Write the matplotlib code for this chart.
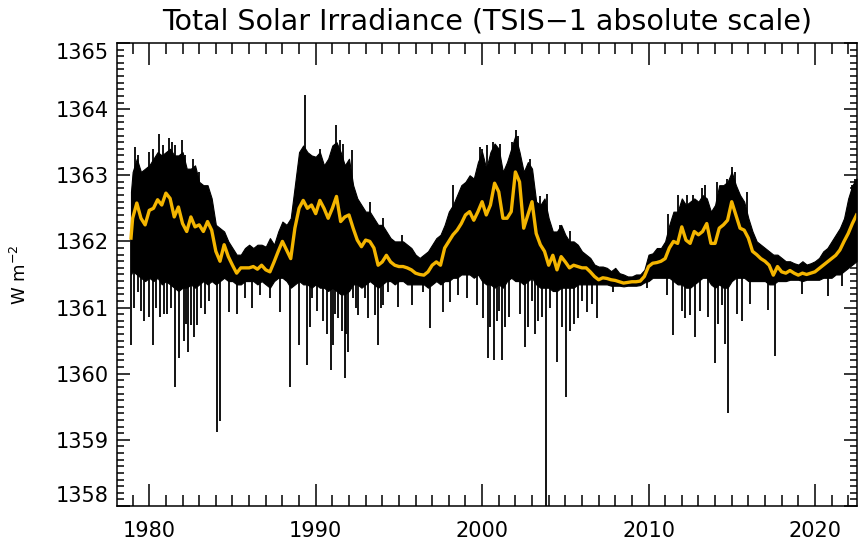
import numpy as np
import matplotlib.pyplot as plt
from matplotlib.ticker import MultipleLocator

# sample times: start of record, then every quarter year
years = np.concatenate([[1978.9], np.arange(1979.0, 2022.51, 0.25)])

# 81-day smoothed TSI (orange curve), W m-2
tsi_smooth = [
    1362.05,
    1362.35, 1362.58, 1362.35, 1362.25,  # 1979
    1362.47, 1362.50, 1362.63, 1362.55,  # 1980
    1362.73, 1362.65, 1362.37, 1362.52,  # 1981
    1362.27, 1362.15, 1362.37, 1362.22,  # 1982
    1362.25, 1362.15, 1362.30, 1362.17,  # 1983
    1361.85, 1361.70, 1361.95, 1361.77,  # 1984
    1361.64, 1361.52, 1361.60, 1361.60,  # 1985
    1361.60, 1361.62, 1361.58, 1361.64,  # 1986
    1361.57, 1361.54, 1361.69, 1361.85,  # 1987
    1362.00, 1361.87, 1361.74, 1362.20,  # 1988
    1362.50, 1362.62, 1362.50, 1362.55,  # 1989
    1362.42, 1362.62, 1362.50, 1362.35,  # 1990
    1362.50, 1362.68, 1362.30, 1362.37,  # 1991
    1362.40, 1362.20, 1362.02, 1361.92,  # 1992
    1362.02, 1362.00, 1361.90, 1361.64,  # 1993
    1361.69, 1361.79, 1361.69, 1361.64,  # 1994
    1361.62, 1361.62, 1361.60, 1361.57,  # 1995
    1361.52, 1361.50, 1361.49, 1361.54,  # 1996
    1361.64, 1361.69, 1361.64, 1361.90,  # 1997
    1362.00, 1362.10, 1362.17, 1362.27,  # 1998
    1362.40, 1362.45, 1362.32, 1362.45,  # 1999
    1362.60, 1362.40, 1362.55, 1362.88,  # 2000
    1362.75, 1362.35, 1362.35, 1362.45,  # 2001
    1363.05, 1362.90, 1362.20, 1362.40,  # 2002
    1362.60, 1362.12, 1361.95, 1361.85,  # 2003
    1361.64, 1361.79, 1361.57, 1361.77,  # 2004
    1361.69, 1361.60, 1361.64, 1361.62,  # 2005
    1361.60, 1361.60, 1361.54, 1361.47,  # 2006
    1361.42, 1361.45, 1361.44, 1361.42,  # 2007
    1361.41, 1361.39, 1361.37, 1361.38,  # 2008
    1361.39, 1361.39, 1361.40, 1361.47,  # 2009
    1361.62, 1361.67, 1361.68, 1361.70,  # 2010
    1361.74, 1361.90, 1362.00, 1361.97,  # 2011
    1362.22, 1362.02, 1361.97, 1362.15,  # 2012
    1362.10, 1362.15, 1362.27, 1361.97,  # 2013
    1361.97, 1362.20, 1362.25, 1362.32,  # 2014
    1362.60, 1362.40, 1362.20, 1362.17,  # 2015
    1362.05, 1361.85, 1361.80, 1361.74,  # 2016
    1361.70, 1361.64, 1361.49, 1361.62,  # 2017
    1361.54, 1361.52, 1361.56, 1361.52,  # 2018
    1361.49, 1361.52, 1361.50, 1361.52,  # 2019
    1361.54, 1361.59, 1361.64, 1361.69,  # 2020
    1361.74, 1361.79, 1361.87, 1362.00,  # 2021
    1362.12, 1362.27, 1362.40,           # 2022
]

# upper edge of the dense daily values
tsi_high = [
    1362.75,
    1363.05, 1363.25, 1363.05, 1363.10,  # 1979
    1363.15, 1363.25, 1363.35, 1363.30,  # 1980
    1363.35, 1363.40, 1363.30, 1363.30,  # 1981
    1363.35, 1363.10, 1363.10, 1363.15,  # 1982
    1362.90, 1362.85, 1362.85, 1362.65,  # 1983
    1362.25, 1362.20, 1362.15, 1362.00,  # 1984
    1361.90, 1361.80, 1361.80, 1361.90,  # 1985
    1361.95, 1361.90, 1361.95, 1361.95,  # 1986
    1361.92, 1362.05, 1361.95, 1362.15,  # 1987
    1362.30, 1362.25, 1362.35, 1362.85,  # 1988
    1363.35, 1363.45, 1363.35, 1363.30,  # 1989
    1363.28, 1363.35, 1363.15, 1363.25,  # 1990
    1363.45, 1363.50, 1363.35, 1363.15,  # 1991
    1363.25, 1362.85, 1362.65, 1362.55,  # 1992
    1362.45, 1362.45, 1362.35, 1362.25,  # 1993
    1362.25, 1362.15, 1362.05, 1362.00,  # 1994
    1362.00, 1362.00, 1361.95, 1361.90,  # 1995
    1361.80, 1361.75, 1361.80, 1361.85,  # 1996
    1361.95, 1362.05, 1362.10, 1362.25,  # 1997
    1362.45, 1362.55, 1362.70, 1362.85,  # 1998
    1362.90, 1363.00, 1362.95, 1363.20,  # 1999
    1363.35, 1363.10, 1363.35, 1363.48,  # 2000
    1363.40, 1363.05, 1363.20, 1363.40,  # 2001
    1363.60, 1363.35, 1363.05, 1363.20,  # 2002
    1363.10, 1362.60, 1362.55, 1362.65,  # 2003
    1362.35, 1362.15, 1362.15, 1362.25,  # 2004
    1362.10, 1362.00, 1362.00, 1361.95,  # 2005
    1361.85, 1361.80, 1361.75, 1361.65,  # 2006
    1361.62, 1361.62, 1361.60, 1361.55,  # 2007
    1361.60, 1361.52, 1361.50, 1361.47,  # 2008
    1361.47, 1361.50, 1361.50, 1361.57,  # 2009
    1361.80, 1361.82, 1361.90, 1361.90,  # 2010
    1362.00, 1362.25, 1362.45, 1362.45,  # 2011
    1362.65, 1362.55, 1362.60, 1362.65,  # 2012
    1362.60, 1362.70, 1362.65, 1362.45,  # 2013
    1362.55, 1362.85, 1362.85, 1362.90,  # 2014
    1363.05, 1362.85, 1362.70, 1362.60,  # 2015
    1362.35, 1362.15, 1362.00, 1361.95,  # 2016
    1361.90, 1361.85, 1361.80, 1361.80,  # 2017
    1361.75, 1361.70, 1361.70, 1361.67,  # 2018
    1361.65, 1361.70, 1361.65, 1361.67,  # 2019
    1361.70, 1361.75, 1361.85, 1361.90,  # 2020
    1362.00, 1362.10, 1362.20, 1362.35,  # 2021
    1362.65, 1362.85, 1362.95,           # 2022
]

# lower edge of the dense daily values
tsi_low = [
    1361.50,
    1361.55, 1361.50, 1361.45, 1361.40,  # 1979
    1361.45, 1361.40, 1361.45, 1361.35,  # 1980
    1361.40, 1361.35, 1361.30, 1361.25,  # 1981
    1361.30, 1361.30, 1361.35, 1361.30,  # 1982
    1361.35, 1361.40, 1361.35, 1361.40,  # 1983
    1361.35, 1361.40, 1361.45, 1361.40,  # 1984
    1361.40, 1361.35, 1361.35, 1361.40,  # 1985
    1361.40, 1361.40, 1361.35, 1361.40,  # 1986
    1361.35, 1361.30, 1361.40, 1361.45,  # 1987
    1361.45, 1361.40, 1361.30, 1361.35,  # 1988
    1361.40, 1361.35, 1361.35, 1361.30,  # 1989
    1361.35, 1361.30, 1361.30, 1361.25,  # 1990
    1361.30, 1361.25, 1361.20, 1361.20,  # 1991
    1361.25, 1361.35, 1361.35, 1361.30,  # 1992
    1361.35, 1361.40, 1361.35, 1361.30,  # 1993
    1361.35, 1361.40, 1361.40, 1361.35,  # 1994
    1361.40, 1361.40, 1361.35, 1361.35,  # 1995
    1361.35, 1361.35, 1361.35, 1361.30,  # 1996
    1361.35, 1361.40, 1361.35, 1361.40,  # 1997
    1361.40, 1361.45, 1361.45, 1361.50,  # 1998
    1361.50, 1361.50, 1361.45, 1361.50,  # 1999
    1361.40, 1361.35, 1361.35, 1361.30,  # 2000
    1361.35, 1361.30, 1361.40, 1361.45,  # 2001
    1361.40, 1361.40, 1361.35, 1361.40,  # 2002
    1361.45, 1361.35, 1361.30, 1361.30,  # 2003
    1361.30, 1361.25, 1361.25, 1361.30,  # 2004
    1361.30, 1361.30, 1361.30, 1361.35,  # 2005
    1361.35, 1361.35, 1361.35, 1361.35,  # 2006
    1361.35, 1361.35, 1361.35, 1361.33,  # 2007
    1361.33, 1361.33, 1361.32, 1361.33,  # 2008
    1361.33, 1361.33, 1361.34, 1361.38,  # 2009
    1361.40, 1361.45, 1361.45, 1361.45,  # 2010
    1361.45, 1361.45, 1361.40, 1361.35,  # 2011
    1361.35, 1361.30, 1361.30, 1361.35,  # 2012
    1361.40, 1361.45, 1361.45, 1361.35,  # 2013
    1361.30, 1361.35, 1361.30, 1361.30,  # 2014
    1361.40, 1361.45, 1361.45, 1361.45,  # 2015
    1361.40, 1361.40, 1361.40, 1361.40,  # 2016
    1361.40, 1361.35, 1361.35, 1361.40,  # 2017
    1361.40, 1361.40, 1361.42, 1361.42,  # 2018
    1361.42, 1361.40, 1361.42, 1361.42,  # 2019
    1361.42, 1361.42, 1361.45, 1361.45,  # 2020
    1361.45, 1361.50, 1361.50, 1361.55,  # 2021
    1361.60, 1361.65, 1361.70,           # 2022
]

# single-day bright spikes above the dense band
spike_years = [1979.16, 1979.35, 1980.0, 1980.2, 1980.56, 1980.8, 1981.17, 1981.35,
               1981.57, 1981.97, 1982.15, 1982.6, 1983.0, 1989.38, 1990.26, 1991.22,
               1991.46, 1991.66, 1992.16, 1993.27, 1994.06, 1995.17, 1998.27, 1999.07,
               1999.87, 1999.97, 2000.27, 2000.67, 2001.07, 2001.78, 2002.04, 2002.18,
               2002.88, 2003.45, 2003.88, 2004.68, 2005.28, 2011.19, 2011.79, 2012.3,
               2012.7, 2013.19, 2013.39, 2014.1, 2014.7, 2015.0, 2015.2, 2015.9,
               2022.2, 2022.4]
spike_values = [1363.43, 1363.30, 1363.35, 1363.40, 1363.63, 1363.45, 1363.56, 1363.50,
                1363.45, 1363.53, 1363.30, 1363.25, 1363.05, 1364.22, 1363.40, 1363.76,
                1363.53, 1363.48, 1363.38, 1362.60, 1362.35, 1362.10, 1362.85, 1362.90,
                1363.43, 1363.40, 1363.45, 1363.50, 1363.48, 1363.50, 1363.68, 1363.60,
                1363.25, 1362.68, 1362.72, 1362.25, 1362.15, 1362.42, 1362.70, 1362.70,
                1362.70, 1362.80, 1362.85, 1362.90, 1362.95, 1363.13, 1363.05, 1362.75,
                1362.85, 1362.95]

# sunspot dips below the dense band
dip_years = [1978.90, 1979.10, 1979.30, 1979.50, 1979.66, 1979.96, 1980.22, 1980.40,
             1980.67, 1980.90, 1981.07, 1981.30, 1981.57, 1981.77, 1982.07, 1982.20,
             1982.31, 1982.51, 1982.70, 1982.87, 1983.10, 1983.37, 1983.60, 1984.07,
             1984.27, 1984.77, 1985.27, 1985.78, 1986.18, 1986.68, 1987.28, 1987.88,
             1988.48, 1988.98, 1989.48, 1989.65, 1989.76, 1990.10, 1990.46, 1990.65,
             1990.90, 1991.06, 1991.15, 1991.36, 1991.56, 1991.76, 1991.85, 1991.96,
             1992.26, 1992.40, 1992.56, 1992.96, 1993.16, 1993.56, 1993.76, 1993.90,
             1994.06, 1994.36, 1994.96, 1995.77, 1996.47, 1996.87, 1997.67, 1998.07,
             1998.57, 1999.07, 1999.67, 2000.07, 2000.37, 2000.50, 2000.71, 2000.90,
             2001.0, 2001.22, 2001.40, 2001.60, 2002.30, 2002.58, 2002.75, 2003.0,
             2003.20, 2003.38, 2003.60, 2003.84, 2004.1, 2004.52, 2004.8, 2005.02,
             2005.28, 2005.5, 2005.78, 2006.0, 2006.28, 2006.6, 2006.88, 2007.89,
             2009.89, 2011.09, 2011.49, 2012.00, 2012.19, 2012.49, 2012.80, 2013.10,
             2013.60, 2014.00, 2014.20, 2014.40, 2014.60, 2014.80, 2015.30, 2015.60,
             2016.10, 2017.20, 2017.60, 2019.20, 2020.80, 2021.60]
dip_values = [1360.43, 1361.00, 1361.24, 1360.95, 1360.80, 1360.85, 1360.43, 1361.00,
              1360.85, 1360.90, 1360.90, 1361.00, 1359.80, 1360.23, 1360.49, 1360.75,
              1360.33, 1360.74, 1360.55, 1360.74, 1361.00, 1360.90, 1361.10, 1359.12,
              1359.28, 1360.94, 1360.90, 1361.14, 1360.99, 1361.19, 1361.14, 1360.94,
              1359.80, 1360.43, 1360.13, 1360.70, 1361.14, 1360.95, 1360.79, 1360.60,
              1360.06, 1360.43, 1360.90, 1360.84, 1360.64, 1359.93, 1360.60, 1360.33,
              1361.14, 1361.00, 1360.89, 1361.14, 1360.84, 1360.89, 1360.43, 1361.00,
              1361.04, 1361.24, 1361.01, 1361.04, 1361.24, 1360.69, 1360.94, 1361.09,
              1361.19, 1361.14, 1361.04, 1360.84, 1360.23, 1360.70, 1360.21, 1360.80,
              1360.95, 1360.21, 1360.70, 1360.85, 1360.90, 1360.41, 1360.70, 1361.10,
              1360.60, 1360.79, 1360.85, 1357.50, 1361.00, 1360.18, 1360.70, 1359.65,
              1360.64, 1360.75, 1360.84, 1361.10, 1360.94, 1361.05, 1360.84, 1361.24,
              1361.29, 1361.19, 1360.59, 1360.95, 1360.84, 1360.89, 1360.55, 1360.95,
              1360.85, 1360.16, 1360.75, 1361.04, 1360.45, 1359.40, 1360.90, 1360.80,
              1361.05, 1360.96, 1360.26, 1361.20, 1361.17, 1361.32]

fig = plt.figure(figsize=(8.59, 5.44), dpi=100)
ax = fig.add_axes([0.1362, 0.0699, 0.8615, 0.8511])

# dense band of daily values
ax.fill_between(years, tsi_low, tsi_high, color='black', lw=0.8, edgecolor='black')
base_up = np.interp(spike_years, years, tsi_smooth)
ax.vlines(spike_years, base_up, spike_values, color='black', lw=1.3)
base_dn = np.interp(dip_years, years, tsi_smooth)
ax.vlines(dip_years, dip_values, base_dn, color='black', lw=1.3)
ax.plot(years, tsi_smooth, color='#F4B500', lw=2.4)

ax.set_xlim(1978.06, 2022.53)
ax.set_ylim(1358, 1365)

ax.xaxis.set_major_locator(MultipleLocator(10))
ax.xaxis.set_minor_locator(MultipleLocator(1))
ax.yaxis.set_major_locator(MultipleLocator(1))
ax.yaxis.set_minor_locator(MultipleLocator(0.1))
ax.tick_params(which='both', direction='in', top=True, right=True, width=1.1,
               labelsize=15)
ax.tick_params(axis='x', which='major', length=16, pad=11)
ax.tick_params(axis='x', which='minor', length=8)
ax.tick_params(axis='y', which='major', length=9.5, pad=6)
ax.tick_params(axis='y', which='minor', length=5)
for s in ax.spines.values():
    s.set_linewidth(1.1)

ax.set_title('Total Solar Irradiance (TSIS\u22121 absolute scale)', fontsize=20.5, pad=10)
ax.set_ylabel('W m$^{-2}$', fontsize=13)
ax.yaxis.set_label_coords(-0.1176, 0.5)

# end labels sit inside the frame, as in the original
fig.canvas.draw()
for tk in ax.yaxis.get_major_ticks():
    if abs(tk.get_loc() - 1358) < 1e-6:
        tk.label1.set_verticalalignment('bottom')
    elif abs(tk.get_loc() - 1365) < 1e-6:
        tk.label1.set_verticalalignment('top')

plt.savefig('out.png', dpi=100)
